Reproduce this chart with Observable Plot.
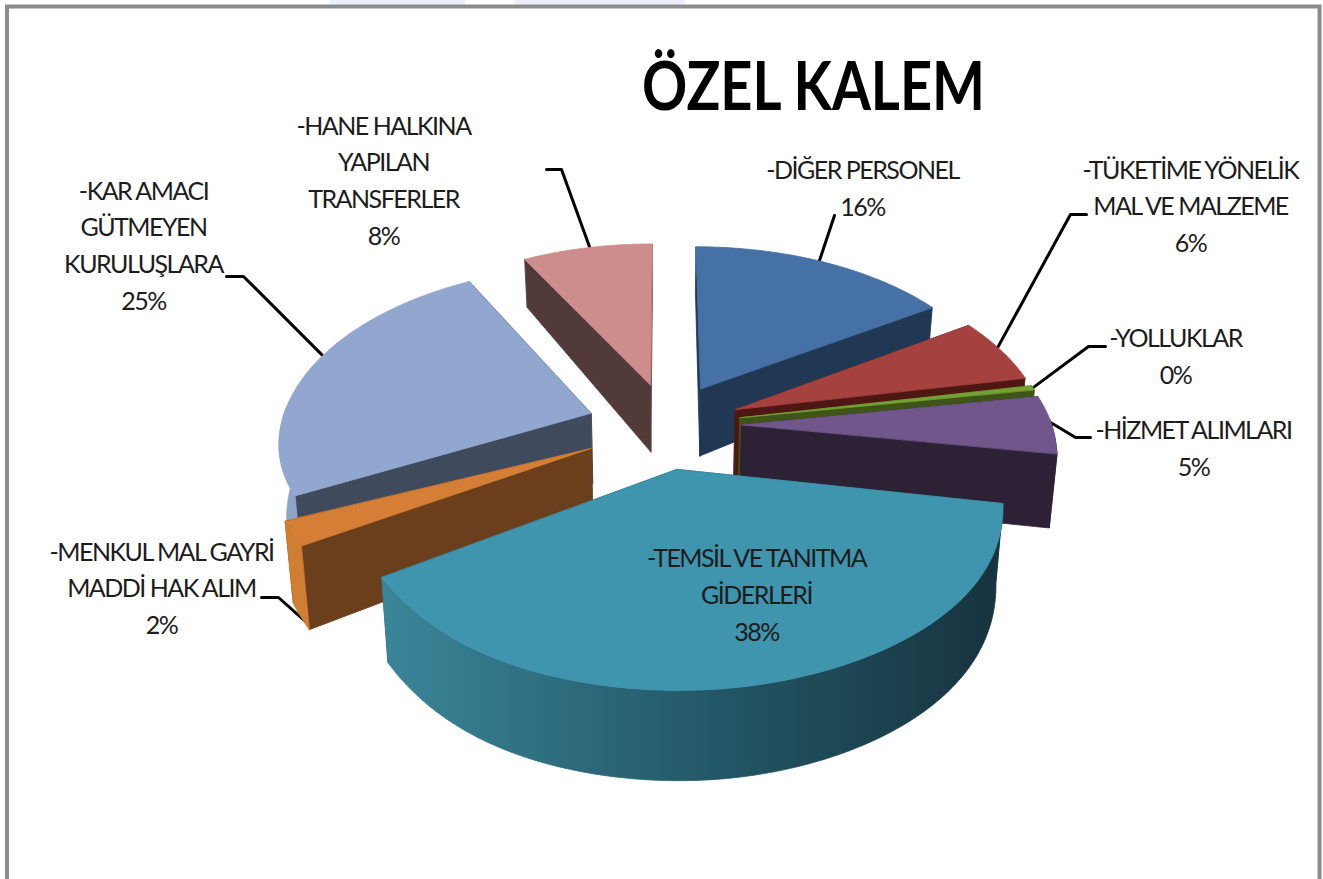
<!DOCTYPE html>
<html>
<head>
<meta charset="utf-8">
<script src="https://cdn.jsdelivr.net/npm/d3@7"></script>
<script src="https://cdn.jsdelivr.net/npm/@observablehq/plot@0.6"></script>
<style>
html,body{margin:0;padding:0;background:#fff;overflow:hidden}
svg{display:block}
</style>
</head>
<body>
<div id="chart"></div>
<script>
// --- data ---
const titleText = "ÖZEL KALEM";
const names = ["DİĞER", "TÜKETİM", "YOLLUK", "HİZMET", "TEMSİL", "MENKUL", "KAR", "HANE"];
const values = [16, 6, 0.4, 5, 38, 2, 25, 8];
const labelLines = [
  ["-DİĞER PERSONEL"],
  ["-TÜKETİME YÖNELİK", "MAL VE MALZEME"],
  ["-YOLLUKLAR"],
  ["-HİZMET ALIMLARI"],
  ["-TEMSİL VE TANITMA", "GİDERLERİ"],
  ["-MENKUL MAL GAYRİ", "MADDİ HAK ALIM"],
  ["-KAR AMACI", "GÜTMEYEN", "KURULUŞLARA"],
  ["-HANE HALKINA", "YAPILAN", "TRANSFERLER"]
];
const topColors  = ["#4571a7", "#a5423f", "#76a034", "#71568c", "#3f94ae", "#d47f35", "#92a7cf", "#cd8d8c"];
const wallColors = ["#203854", "#4f1713", "#3f5518", "#2c2135", "#1f4a58", "#6b3f1c", "#3f4a5d", "#523a3b"];
const outerColors = ["#203854", "#4f1713", "#3f5518", "#2c2135", "url(#tealWall)", "#cf7e33", "#8fa3c9", "#523a3b"];

// --- layout (placement on the page, separate from the data) ---
const W = 1323, H = 879;
const view = {cx: 664, cy: 425, R: 310, tilt: 173.4, k: 0.15, zPersp: 0.02, explode: 0.25};
const nudge = [[0, 0], [0, 0], [0, 0], [0, 0], [-0.02, 0], [-0.02, 0], [0, 0], [0.015, 0]];
// the source picture's perspective is slightly rolled: per-slice correction strengths
const rollLeft  = [0, 0, 0, 0, 18, 18, 5, 0];
const rollRight = [0, 0, 0, 8, 8, 0, 0, 0];
const leftStretch = [1, 1, 1, 1, 1.03, 1, 1, 1];
const labelPlace = [
  {x: 862, y: 170, dy: 37},
  {x: 1190, y: 170, dy: 36.5},
  {x: 1175, y: 338, dy: 37},
  {x: 1193, y: 430, dy: 37},
  {x: 756, y: 558, dy: 37},
  {x: 161, y: 552, dy: 36.5},
  {x: 143, y: 191, dy: 36.7},
  {x: 383, y: 126, dy: 36.7}
];
const leaderKnots = [
  [[834, 215]],
  [[1070, 214], [1086, 214]],
  [[1088, 346], [1105, 346]],
  [[1075, 437], [1090, 437]],
  [],
  [[278, 597], [261, 597]],
  [[243, 276], [226, 276]],
  [[561, 169], [546, 169]]
];
// where on each slice's arc (0-1 across the slice) the leader starts, and how far down its rim
const leaderAt = [0.48, 0.45, 0.5, 0.5, 0.5, 0.1, 0.55, 0.52];
const leaderZ = [0, 0, 0, 0, 0, 0.95, 0, 0];

// --- geometry derived from the values ---
const total = d3.sum(values);
const TAU = Math.PI * 2;
function project(u, v, z, i) {
  const w = 1 / (1 - view.k * v + view.zPersp * z);
  const d = z * (73 + 12 * v - 4.76 * v * v);
  const vc = Math.max(0, Math.min(1.24, v));
  const s = Math.sin(Math.PI * vc / 1.24);
  const roll = u < 0 ? rollLeft[i] * u * s * s : rollRight[i] * u * s;
  return {
    x: view.cx + view.R * u * w,
    y: view.cy + (view.tilt * v + d) * w + roll
  };
}
let cum = 0;
const slices = values.map((val, i) => {
  const a0 = cum / total * TAU;
  cum += val;
  const a1 = cum / total * TAU;
  const mid = (a0 + a1) / 2;
  const ou = Math.sin(mid) * view.explode + nudge[i][0], ov = -Math.cos(mid) * view.explode + nudge[i][1];
  const arc = (a) => {
    const su = Math.sin(a);
    return {u: ou + (su < 0 ? su * leftStretch[i] : su), v: ov - Math.cos(a)};
  };
  return {i, a0, a1, ou, ov, arc};
});

const polys = [];
function addPoly(id, fill, pts) {
  pts.forEach(p => polys.push({id, fill, x: p.x, y: p.y}));
}
const order = d3.sort(slices, s => s.ov);
order.forEach(s => {
  const steps = Math.max(2, Math.ceil((s.a1 - s.a0) / 0.02));
  const angles = d3.range(steps + 1).map(j => s.a0 + (s.a1 - s.a0) * j / steps);
  const P = (a, z) => { const q = s.arc(a); return project(q.u, q.v, z, s.i); };
  const A0 = project(s.ou, s.ov, 0, s.i), A1 = project(s.ou, s.ov, 1, s.i);
  addPoly(`w0-${s.i}`, wallColors[s.i], [A0, P(s.a0, 0), P(s.a0, 1), A1]);
  addPoly(`w1-${s.i}`, wallColors[s.i], [A0, P(s.a1, 0), P(s.a1, 1), A1]);
  // only the front-facing part of the outer rim is seen
  const rim = angles.filter(a => -Math.cos(a) > -0.05);
  if (rim.length > 1)
    addPoly(`o-${s.i}`, outerColors[s.i], [...rim.map(a => P(a, 0)), ...rim.slice().reverse().map(a => P(a, 1))]);
  addPoly(`t-${s.i}`, topColors[s.i], [A0, ...angles.map(a => P(a, 0))]);
});

const leaders = [];
slices.forEach(s => {
  if (!leaderKnots[s.i].length) return;
  const a = s.a0 + (s.a1 - s.a0) * leaderAt[s.i];
  const q = s.arc(a);
  const start = project(q.u, q.v, leaderZ[s.i], s.i);
  leaders.push({id: s.i, x: start.x, y: start.y});
  leaderKnots[s.i].forEach(([x, y]) => leaders.push({id: s.i, x, y}));
});

const texts = [];
labelLines.forEach((lines, i) => {
  const p = labelPlace[i];
  [...lines, `${Math.round(values[i])}%`].forEach((t, j) => {
    texts.push({t, x: p.x, y: p.y + j * p.dy});
  });
});

// the rim of the largest slice darkens from left to right
function tealGradient(index, {x}) {
  const ns = "http://www.w3.org/2000/svg";
  const defs = document.createElementNS(ns, "defs");
  const g = document.createElementNS(ns, "linearGradient");
  g.setAttribute("id", "tealWall");
  g.setAttribute("gradientUnits", "userSpaceOnUse");
  g.setAttribute("x1", x(385)); g.setAttribute("x2", x(1000));
  g.setAttribute("y1", 0); g.setAttribute("y2", 0);
  [[0, "#3a8598"], [0.5, "#245a6a"], [1, "#17333e"]].forEach(([o, c]) => {
    const st = document.createElementNS(ns, "stop");
    st.setAttribute("offset", o); st.setAttribute("stop-color", c);
    g.appendChild(st);
  });
  defs.appendChild(g);
  return defs;
}

const plot = Plot.plot({
  width: W, height: H,
  margin: 0,
  x: {axis: null, domain: [0, W], range: [0, W]},
  y: {axis: null, domain: [H, 0], range: [H, 0]},
  color: {type: "identity"},
  style: {fontFamily: "Lato, sans-serif", background: "#fff", letterSpacing: "-1.5px"},
  marks: [
    tealGradient,
    Plot.rect([{x1: 330, x2: 465}, {x1: 515, x2: 685}], {x1: "x1", x2: "x2", y1: 0, y2: 5, fill: "#eceef8"}),
    Plot.frame({stroke: "#8c8c8c", strokeWidth: 4, insetLeft: 6.5, insetTop: 6, insetRight: 4, insetBottom: -20}),
    Plot.line(leaders, {x: "x", y: "y", z: "id", stroke: "#000", strokeWidth: 3, curve: "linear"}),
    Plot.line(polys, {x: "x", y: "y", z: "id", fill: "fill", stroke: "fill", strokeWidth: 0.8, curve: "linear-closed"}),
    Plot.text(texts, {x: "x", y: "y", text: "t", fontSize: 25, fill: "#1c1c1c", textAnchor: "middle", lineAnchor: "middle"}),
    Plot.text([titleText], {x: 813, y: 88, text: d => d, fontSize: 66, fontWeight: 700, fill: "#000", textAnchor: "middle", lineAnchor: "middle", className: "chart-title"})
  ]
});
d3.select(plot).selectAll(".chart-title text")
  .attr("textLength", 343)
  .attr("lengthAdjust", "spacingAndGlyphs")
  .style("letter-spacing", "0");
document.getElementById("chart").appendChild(plot);
</script>
</body>
</html>
